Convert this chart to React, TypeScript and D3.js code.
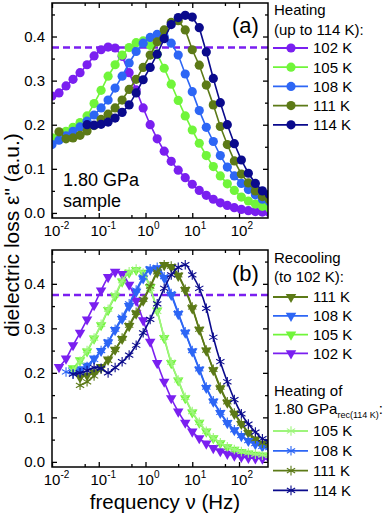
import React, { useEffect, useRef } from 'react';
import * as d3 from 'd3';

// log10 of frequency (Hz), same grid for every curve
const logFreq = [-2.0, -1.85, -1.7, -1.55, -1.4, -1.25, -1.1, -0.95, -0.8, -0.65, -0.5, -0.35, -0.2, -0.05, 0.1, 0.25, 0.4, 0.55, 0.7, 0.85, 1.0, 1.15, 1.3, 1.45, 1.6, 1.75, 1.9, 2.05, 2.2, 2.35, 2.5, 2.65];

// (a) heating up to 114 K
const heat102 = [0.265, 0.272, 0.288, 0.303, 0.318, 0.336, 0.356, 0.370, 0.376, 0.374, 0.355, 0.318, 0.279, 0.238, 0.200, 0.168, 0.140, 0.117, 0.097, 0.080, 0.065, 0.051, 0.040, 0.031, 0.023, 0.017, 0.012, 0.008, 0.005, 0.003, 0.002, 0.001];
const heat105 = [0.170, 0.176, 0.185, 0.194, 0.205, 0.220, 0.248, 0.278, 0.310, 0.336, 0.358, 0.375, 0.386, 0.390, 0.380, 0.360, 0.328, 0.292, 0.255, 0.220, 0.188, 0.158, 0.130, 0.105, 0.084, 0.066, 0.051, 0.036, 0.027, 0.020, 0.015, 0.011];
const heat108 = [0.155, 0.165, 0.175, 0.185, 0.195, 0.208, 0.222, 0.238, 0.256, 0.283, 0.310, 0.340, 0.366, 0.385, 0.398, 0.405, 0.400, 0.385, 0.358, 0.315, 0.275, 0.232, 0.194, 0.162, 0.130, 0.104, 0.084, 0.067, 0.053, 0.041, 0.031, 0.026];
const heat111 = [null, 0.184, 0.168, 0.170, 0.176, 0.186, 0.198, 0.212, 0.224, 0.238, 0.256, 0.280, 0.303, 0.330, 0.358, 0.388, 0.415, 0.432, 0.436, 0.415, 0.370, 0.335, 0.290, 0.245, 0.196, 0.155, 0.118, 0.088, 0.068, 0.050, 0.037, 0.030];
const heat114 = [null, null, null, null, null, 0.200, 0.199, 0.201, 0.206, 0.215, 0.228, 0.245, 0.272, 0.302, 0.330, 0.360, 0.395, 0.427, 0.443, 0.448, 0.444, 0.420, 0.365, 0.305, 0.250, 0.200, 0.157, 0.120, 0.090, 0.067, 0.050, 0.042];

// (b) recooling to 102 K
const cool111 = [null, null, null, null, 0.190, 0.194, 0.201, 0.213, 0.230, 0.252, 0.276, 0.305, 0.333, 0.362, 0.392, 0.425, 0.442, 0.438, 0.418, 0.386, 0.345, 0.297, 0.250, 0.206, 0.165, 0.133, 0.108, 0.085, 0.065, 0.050, 0.041, 0.036];
const cool108 = [null, null, null, 0.205, 0.208, 0.216, 0.232, 0.249, 0.268, 0.296, 0.321, 0.350, 0.382, 0.412, 0.432, 0.435, 0.413, 0.375, 0.332, 0.290, 0.248, 0.207, 0.166, 0.135, 0.110, 0.087, 0.071, 0.058, 0.047, 0.040, 0.034, 0.031];
const cool105 = [null, null, null, 0.210, 0.228, 0.248, 0.277, 0.307, 0.341, 0.372, 0.405, 0.425, 0.431, 0.425, 0.392, 0.340, 0.278, 0.222, 0.183, 0.143, 0.111, 0.088, 0.068, 0.053, 0.042, 0.033, 0.027, 0.022, 0.019, 0.016, 0.014, 0.013];
const cool102 = [null, 0.213, 0.232, 0.262, 0.290, 0.320, 0.352, 0.385, 0.415, 0.427, 0.422, 0.398, 0.362, 0.318, 0.270, 0.222, 0.180, 0.143, 0.113, 0.088, 0.068, 0.053, 0.041, 0.031, 0.024, 0.018, 0.014, 0.011, 0.009, 0.008, 0.007, 0.006];

// (b) heating of the recooled sample
const reheat105 = [null, null, null, 0.205, 0.226, 0.250, 0.278, 0.309, 0.343, 0.375, 0.407, 0.427, 0.433, 0.424, 0.390, 0.338, 0.280, 0.224, 0.184, 0.145, 0.113, 0.089, 0.069, 0.054, 0.043, 0.034, 0.028, 0.023, 0.020, 0.017, 0.015, 0.014];
const reheat108 = [null, null, 0.202, 0.198, 0.204, 0.214, 0.230, 0.250, 0.270, 0.298, 0.325, 0.355, 0.386, 0.415, 0.434, 0.437, 0.416, 0.378, 0.335, 0.292, 0.250, 0.209, 0.168, 0.137, 0.111, 0.089, 0.072, 0.059, 0.048, 0.041, 0.035, 0.032];
const reheat111 = [null, null, null, null, 0.172, 0.180, 0.193, 0.208, 0.228, 0.252, 0.278, 0.307, 0.336, 0.365, 0.395, 0.427, 0.443, 0.440, 0.420, 0.388, 0.348, 0.298, 0.251, 0.208, 0.168, 0.135, 0.110, 0.087, 0.067, 0.052, 0.042, 0.037];
const reheat114 = [null, null, null, 0.197, 0.200, 0.205, 0.212, 0.210, 0.200, 0.212, 0.225, 0.240, 0.262, 0.290, 0.320, 0.355, 0.390, 0.420, 0.437, 0.443, 0.420, 0.390, 0.345, 0.280, 0.225, 0.180, 0.140, 0.108, 0.085, 0.067, 0.052, 0.046];

const refLevel = 0.375; // dashed line, peak of 102 K heating curve

const heatLabels = ['102 K', '105 K', '108 K', '111 K', '114 K'];
const coolLabels = ['111 K', '108 K', '105 K', '102 K'];
const reheatLabels = ['105 K', '108 K', '111 K', '114 K'];

const xDecades = [0.01, 0.1, 1, 10, 100];
const xMinor = [0.05, 0.5, 5, 50];
const yMajor = [0, 0.1, 0.2, 0.3, 0.4];
const yMinor = [0.05, 0.15, 0.25, 0.35, 0.45];

const C = {
  p: '#7a1ff0',
  g: '#70f53a',
  gl: '#9ef57c',
  b: '#2d66f5',
  o: '#5c7a17',
  n: '#0a0a8c',
};

const FONT = 'Liberation Sans, Arial, sans-serif';

function draw(svgEl: SVGSVGElement) {
  const svg = d3.select(svgEl);
  svg.selectAll('*').remove();
  svg.attr('font-family', FONT);

  const left = 52, right = 268;
  const x = d3.scaleLog().domain([0.01, Math.pow(10, 2.62)]).range([left, right]);

  const heatSeries = [heat102, heat105, heat108, heat111, heat114].map((v, i) => ({ label: heatLabels[i], color: [C.p, C.g, C.b, C.o, C.n][i], values: v }));
  const coolSeries = [cool111, cool108, cool105, cool102].map((v, i) => ({ label: coolLabels[i], color: [C.o, C.b, C.g, C.p][i], values: v }));
  const reheatSeries = [reheat105, reheat108, reheat111, reheat114].map((v, i) => ({ label: reheatLabels[i], color: [C.gl, C.b, C.o, C.n][i], values: v }));

  const pts = (vals: (number | null)[]) => logFreq.map((lf, i) => ({ f: Math.pow(10, lf), v: vals[i] })).filter(d => d.v != null) as { f: number, v: number }[];

  const tri = d3.symbol().type(d3.symbolTriangle).size(48)();
  const star = d3.symbol().type(d3.symbolAsterisk).size(64)();

  function panel(top: number, bottom: number, id: string, tag: string, tagY: number) {
    const y = d3.scaleLinear().domain([-0.0115, 0.476]).range([bottom, top]);
    const g = svg.append('g');

    svg.append('clipPath').attr('id', id).append('rect')
      .attr('x', left).attr('y', top).attr('width', right - left).attr('height', bottom - top);

    // ticks (inward on all four sides)
    const tickStyle = (a: any) => {
      a.select('.domain').remove();
      a.selectAll('line').attr('stroke', '#000').attr('stroke-width', 1.3);
      a.selectAll('text').remove();
    };
    g.append('g').attr('transform', `translate(0,${bottom})`).call(d3.axisBottom(x).tickValues(xDecades).tickSize(-5)).call(tickStyle);
    g.append('g').attr('transform', `translate(0,${bottom})`).call(d3.axisBottom(x).tickValues(xMinor).tickSize(-3)).call(tickStyle);
    g.append('g').attr('transform', `translate(0,${top})`).call(d3.axisTop(x).tickValues(xDecades).tickSize(-5)).call(tickStyle);
    g.append('g').attr('transform', `translate(0,${top})`).call(d3.axisTop(x).tickValues(xMinor).tickSize(-3)).call(tickStyle);
    g.append('g').attr('transform', `translate(${left},0)`).call(d3.axisLeft(y).tickValues(yMajor).tickSize(-5)).call(tickStyle);
    g.append('g').attr('transform', `translate(${left},0)`).call(d3.axisLeft(y).tickValues(yMinor).tickSize(-3)).call(tickStyle);
    g.append('g').attr('transform', `translate(${right},0)`).call(d3.axisRight(y).tickValues(yMajor).tickSize(-5)).call(tickStyle);
    g.append('g').attr('transform', `translate(${right},0)`).call(d3.axisRight(y).tickValues(yMinor).tickSize(-3)).call(tickStyle);

    // tick labels
    yMajor.forEach(v => {
      g.append('text').attr('x', 45).attr('y', y(v) + 5.3).attr('text-anchor', 'end')
        .attr('font-size', 15).text(d3.format('.1f')(v));
    });
    xDecades.forEach(d => {
      const t = g.append('text').attr('x', x(d) - 8.3).attr('y', bottom + 18).attr('font-size', 15);
      t.append('tspan').text('10');
      t.append('tspan').attr('dy', -7).attr('font-size', 10).text(String(Math.round(Math.log10(d))));
    });

    // dashed reference level
    g.append('line').attr('x1', left).attr('x2', right).attr('y1', y(refLevel)).attr('y2', y(refLevel))
      .attr('stroke', C.p).attr('stroke-width', 2.4).attr('stroke-dasharray', '7,4');

    const data = g.append('g').attr('clip-path', `url(#${id})`);

    g.append('text').attr('x', 232).attr('y', tagY).attr('font-size', 22).text(tag);

    return { y, data, g, frame: () => svg.append('rect').attr('x', left).attr('y', top).attr('width', right - left).attr('height', bottom - top).attr('fill', 'none').attr('stroke', '#000').attr('stroke-width', 1.5) };
  }

  // ---- panel (a)
  const a = panel(3, 218, 'clipA', '(a)', 32.5);
  heatSeries.forEach(s => {
    const p = pts(s.values);
    const line = d3.line<{ f: number, v: number }>().x(d => x(d.f)).y(d => a.y(d.v));
    a.data.append('path').attr('d', line(p)).attr('fill', 'none').attr('stroke', s.color).attr('stroke-width', 1.6);
    a.data.selectAll(null).data(p).enter().append('circle')
      .attr('cx', d => x(d.f)).attr('cy', d => a.y(d.v)).attr('r', 4.6).attr('fill', s.color);
  });
  a.frame();
  a.g.append('text').attr('x', 63).attr('y', 186).attr('font-size', 18).text('1.80 GPa');
  a.g.append('text').attr('x', 63).attr('y', 207).attr('font-size', 18).text('sample');

  // ---- panel (b)
  const b = panel(250, 467, 'clipB', '(b)', 281);
  const smooth = d3.line<{ f: number, v: number }>().x(d => x(d.f)).y(d => b.y(d.v)).curve(d3.curveMonotoneX);
  coolSeries.forEach(s => {
    const p = pts(s.values);
    b.data.append('path').attr('d', smooth(p)).attr('fill', 'none').attr('stroke', s.color).attr('stroke-width', 1.6);
    b.data.selectAll(null).data(p).enter().append('path').attr('d', tri)
      .attr('transform', d => `translate(${x(d.f)},${b.y(d.v)}) rotate(180)`).attr('fill', s.color);
  });
  reheatSeries.forEach(s => {
    const p = pts(s.values);
    b.data.append('path').attr('d', smooth(p)).attr('fill', 'none').attr('stroke', s.color).attr('stroke-width', 1.6);
    b.data.selectAll(null).data(p).enter().append('path').attr('d', star)
      .attr('transform', d => `translate(${x(d.f)},${b.y(d.v)})`).attr('fill', 'none')
      .attr('stroke', s.color).attr('stroke-width', 1.1);
  });
  b.frame();

  // axis titles
  svg.append('text').attr('transform', 'translate(19,235) rotate(-90)').attr('text-anchor', 'middle')
    .attr('font-size', 21).text('dielectric loss ε" (a.u.)');
  svg.append('text').attr('x', 165).attr('y', 509).attr('text-anchor', 'middle')
    .attr('font-size', 20.5).text('frequency ν (Hz)');

  // ---- legends
  const lg = svg.append('g').attr('font-size', 15);
  const lx0 = 273, lx1 = 308, mx = 291, tx = 313;
  const row = (cy: number, color: string, label: string, kind: string) => {
    lg.append('line').attr('x1', lx0).attr('x2', lx1).attr('y1', cy).attr('y2', cy).attr('stroke', color).attr('stroke-width', 1.8);
    if (kind === 'circle') lg.append('circle').attr('cx', mx).attr('cy', cy).attr('r', 4.6).attr('fill', color);
    if (kind === 'tri') lg.append('path').attr('d', tri).attr('transform', `translate(${mx},${cy}) rotate(180)`).attr('fill', color);
    if (kind === 'star') lg.append('path').attr('d', star).attr('transform', `translate(${mx},${cy})`).attr('fill', 'none').attr('stroke', color).attr('stroke-width', 1.1);
    lg.append('text').attr('x', tx).attr('y', cy + 5.3).text(label);
  };

  lg.append('text').attr('x', 274).attr('y', 15).text('Heating');
  lg.append('text').attr('x', 274).attr('y', 35).text('(up to 114 K):');
  heatSeries.forEach((s, i) => row(48 + i * 19.2, s.color, s.label, 'circle'));

  lg.append('text').attr('x', 274).attr('y', 263).text('Recooling');
  lg.append('text').attr('x', 274).attr('y', 282).text('(to 102 K):');
  coolSeries.forEach((s, i) => row(297 + i * 18.8, s.color, s.label, 'tri'));

  lg.append('text').attr('x', 274).attr('y', 396).text('Heating of');
  const sub = lg.append('text').attr('x', 274).attr('y', 414);
  sub.append('tspan').text('1.80 GPa');
  sub.append('tspan').attr('dy', 4).attr('font-size', 9).text('rec(114 K)');
  sub.append('tspan').attr('dy', -4).text(':');
  reheatSeries.forEach((s, i) => row(431 + i * 19.8, s.color, s.label, 'star'));
}

export default function App() {
  const ref = useRef<SVGSVGElement>(null);
  useEffect(() => {
    if (ref.current) draw(ref.current);
  }, []);
  return (
    <svg ref={ref} width={387} height={516}
      style={{ position: 'absolute', left: 0, top: 0, background: '#fff', display: 'block' }} />
  );
}
